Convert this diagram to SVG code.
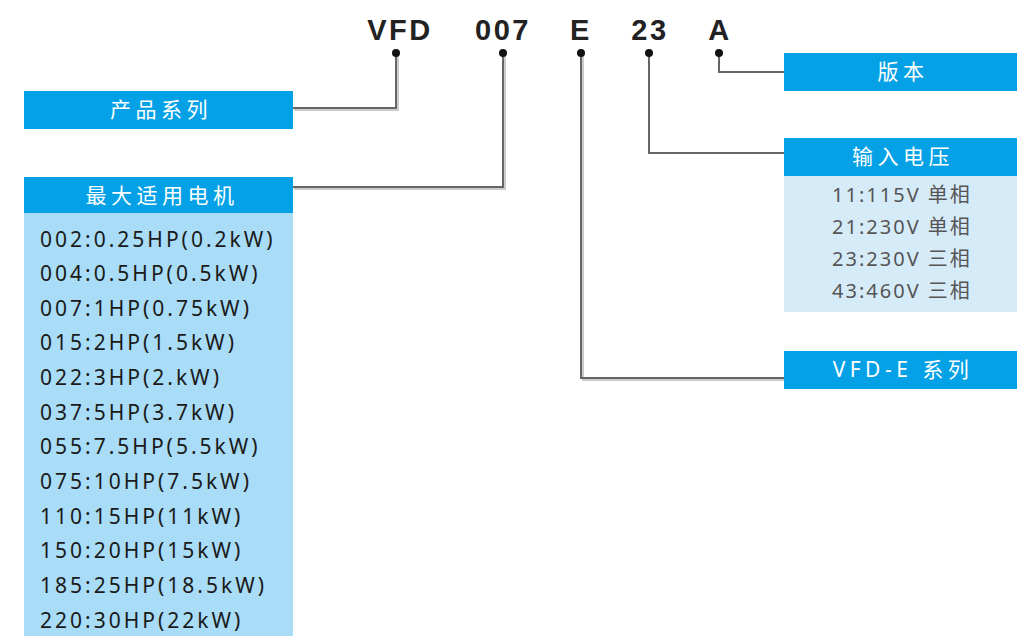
<svg xmlns="http://www.w3.org/2000/svg" width="1017" height="636" viewBox="0 0 1017 636">
<style>
.code{font-family:"Liberation Sans",Arial,sans-serif;font-weight:bold;font-size:29px;fill:#222;text-anchor:middle;letter-spacing:2.5px}
.hdr{fill:#04a1e6}
.ht{font-family:"Noto Sans","Noto Sans CJK SC",sans-serif;font-size:21px;fill:#fff;text-anchor:middle;letter-spacing:4.5px}
.lt{font-family:"Noto Sans","Noto Sans CJK SC",sans-serif;font-size:21px;fill:#1a1a1a;letter-spacing:3px}
.rt{font-family:"Noto Sans","Noto Sans CJK SC",sans-serif;font-size:20px;fill:#555;text-anchor:middle;letter-spacing:2px}
.ln{fill:none;stroke:#666;stroke-width:2}
.sh{fill:none;stroke:#ccc;stroke-width:2}
.dot{fill:#111}
</style>
<rect width="1017" height="636" fill="#fff"/>
<g id="code">
<text class="code" x="400" y="40">VFD</text>
<text class="code" x="503" y="40">007</text>
<text class="code" x="581" y="40">E</text>
<text class="code" x="650" y="40">23</text>
<text class="code" x="720" y="40">A</text>
</g>
<g id="connectors">
<polyline class="sh" points="294,110 398,110 398,55"/>
<polyline class="ln" points="293,108 396,108 396,53"/>
<polyline class="sh" points="294,189 505,189 505,55"/>
<polyline class="ln" points="293,187 503,187 503,53"/>
<polyline class="sh" points="583,55 583,380 786,380"/>
<polyline class="ln" points="581,53 581,378 785,378"/>
<polyline class="ln" points="649,53 649,153 785,153"/>
<polyline class="ln" points="719,53 719,72 785,72"/>
<circle class="dot" cx="396" cy="53" r="4"/>
<circle class="dot" cx="503" cy="53" r="4"/>
<circle class="dot" cx="581" cy="53" r="4"/>
<circle class="dot" cx="649" cy="53" r="4"/>
<circle class="dot" cx="719" cy="53" r="4"/>
</g>
<g id="product-series">
<rect class="hdr" x="24" y="91" width="269" height="38"/>
<text class="ht" x="161" y="117">产品系列</text>
</g>
<g id="max-motor">
<rect x="24" y="213" width="269" height="423" fill="#a9dcf6"/>
<rect class="hdr" x="24" y="177" width="269" height="36"/>
<text class="ht" x="162" y="203">最大适用电机</text>
<text class="lt" x="40" y="247">002:0.25HP(0.2kW)</text>
<text class="lt" x="40" y="281">004:0.5HP(0.5kW)</text>
<text class="lt" x="40" y="316">007:1HP(0.75kW)</text>
<text class="lt" x="40" y="350">015:2HP(1.5kW)</text>
<text class="lt" x="40" y="385">022:3HP(2.kW)</text>
<text class="lt" x="40" y="420">037:5HP(3.7kW)</text>
<text class="lt" x="40" y="454">055:7.5HP(5.5kW)</text>
<text class="lt" x="40" y="489">075:10HP(7.5kW)</text>
<text class="lt" x="40" y="524">110:15HP(11kW)</text>
<text class="lt" x="40" y="558">150:20HP(15kW)</text>
<text class="lt" x="40" y="593">185:25HP(18.5kW)</text>
<text class="lt" x="40" y="628">220:30HP(22kW)</text>
</g>
<g id="version">
<rect class="hdr" x="784" y="53" width="233" height="38"/>
<text class="ht" x="903" y="79">版本</text>
</g>
<g id="input-voltage">
<rect x="784" y="176" width="233" height="136" fill="#d6ebf8"/>
<rect class="hdr" x="784" y="138" width="233" height="38"/>
<text class="ht" x="903" y="164">输入电压</text>
<text class="rt" x="902" y="202">11:115V 单相</text>
<text class="rt" x="902" y="234">21:230V 单相</text>
<text class="rt" x="902" y="266">23:230V 三相</text>
<text class="rt" x="902" y="298">43:460V 三相</text>
</g>
<g id="vfd-e-series">
<rect class="hdr" x="784" y="351" width="233" height="38"/>
<text class="ht" x="903" y="377">VFD-E 系列</text>
</g>
</svg>
